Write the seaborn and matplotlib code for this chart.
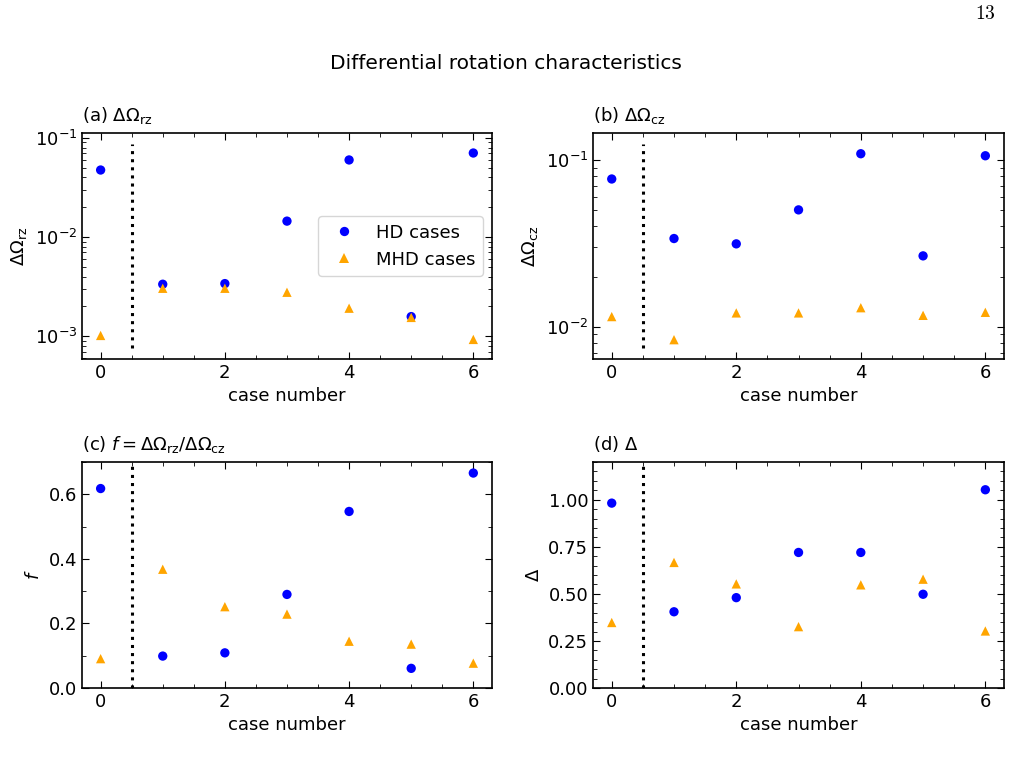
import numpy as np
import pandas as pd
import matplotlib
matplotlib.use("Agg")
import matplotlib.pyplot as plt
import seaborn as sns
from matplotlib.ticker import AutoMinorLocator, LogLocator, NullFormatter, FormatStrFormatter

cases = [0, 1, 2, 3, 4, 5, 6]

# (a) delta Omega_rz
hd_rz = [0.0475, 0.00335, 0.0034, 0.0145, 0.060, 0.00158, 0.0705]
mhd_rz = [0.00102, 0.00305, 0.00305, 0.00278, 0.00192, 0.00155, 0.00093]

# (b) delta Omega_cz
hd_cz = [0.0769, 0.0338, 0.0314, 0.0502, 0.109, 0.0266, 0.106]
mhd_cz = [0.0115, 0.00836, 0.0121, 0.0121, 0.0130, 0.0117, 0.0122]

# (c) f
hd_f = [0.618, 0.099, 0.109, 0.290, 0.547, 0.061, 0.666]
mhd_f = [0.091, 0.368, 0.252, 0.229, 0.145, 0.136, 0.077]

# (d) Delta
hd_d = [0.982, 0.405, 0.480, 0.720, 0.720, 0.498, 1.053]
mhd_d = [0.348, 0.667, 0.553, 0.326, 0.548, 0.578, 0.303]

sns.set_style("ticks")
plt.rcParams.update({
    "font.size": 13,
    "mathtext.fontset": "dejavusans",
    "text.color": "black",
    "axes.labelcolor": "black",
    "axes.edgecolor": "black",
    "xtick.color": "black",
    "ytick.color": "black",
    "xtick.direction": "in",
    "ytick.direction": "in",
    "xtick.top": True,
    "ytick.right": True,
    "xtick.major.size": 5,
    "ytick.major.size": 5,
    "xtick.minor.size": 3,
    "ytick.minor.size": 3,
    "axes.linewidth": 1.2,
    "legend.edgecolor": "0.8",
})
plt.rcParams["font.family"] = ["DejaVu Sans"]

fig = plt.figure(figsize=(10.11, 7.8), dpi=100)

boxes = [
    [0.0811, 0.5397, 0.4055, 0.2897],
    [0.5866, 0.5397, 0.4065, 0.2897],
    [0.0811, 0.1179, 0.4055, 0.2897],
    [0.5866, 0.1179, 0.4065, 0.2897],
]
panels = [
    (hd_rz, mhd_rz, r"(a) $\Delta\Omega_{\rm rz}$", r"$\Delta\Omega_{\rm rz}$", "log", (5.9e-4, 0.112), (0.05, 0.95)),
    (hd_cz, mhd_cz, r"(b) $\Delta\Omega_{\rm cz}$", r"$\Delta\Omega_{\rm cz}$", "log", (0.0064, 0.145), (0.05, 0.95)),
    (hd_f, mhd_f, r"(c) $f = \Delta\Omega_{\rm rz}/\Delta\Omega_{\rm cz}$", r"$f$", "linear", (0, 0.7), (0, 1)),
    (hd_d, mhd_d, r"(d) $\Delta$", r"$\Delta$", "linear", (0, 1.2), (0, 1)),
]

for i, (hd, mhd, title, ylab, scale, ylim, vspan) in enumerate(panels):
    ax = fig.add_axes(boxes[i])
    df = pd.DataFrame({
        "case": cases + cases,
        "value": hd + mhd,
        "kind": ["HD cases"] * len(cases) + ["MHD cases"] * len(cases),
    })
    sns.scatterplot(data=df, x="case", y="value", hue="kind", style="kind",
                    palette={"HD cases": "blue", "MHD cases": "orange"},
                    markers={"HD cases": "o", "MHD cases": "^"},
                    s=45, linewidth=0, ax=ax, legend=(i == 0), zorder=3)
    ax.axvline(0.5, ymin=vspan[0], ymax=vspan[1], color="black", ls=":", lw=2.2)
    ax.set_yscale(scale)
    ax.set_ylim(*ylim)
    ax.set_xlim(-0.3, 6.3)
    ax.set_xticks([0, 2, 4, 6])
    ax.xaxis.set_minor_locator(AutoMinorLocator(4))
    if scale == "log":
        ax.yaxis.set_minor_locator(LogLocator(base=10, subs=np.arange(2, 10)))
        ax.yaxis.set_minor_formatter(NullFormatter())
    else:
        ax.yaxis.set_minor_locator(AutoMinorLocator(2))
    if i == 3:
        ax.set_yticks([0, 0.25, 0.5, 0.75, 1.0])
        ax.yaxis.set_minor_locator(AutoMinorLocator(5))
        ax.yaxis.set_major_formatter(FormatStrFormatter("%.2f"))
    ax.tick_params(which="both", direction="in", top=True, right=True, labelsize=13)
    ax.set_xlabel("case number", fontsize=13)
    ax.set_ylabel(ylab, fontsize=13)
    ax.set_title(title, loc="left", fontsize=13, pad=9)
    if i == 0:
        ax.legend(title=None, loc="center right", fontsize=13, frameon=True)

fig.text(0.5, 0.919, "Differential rotation characteristics", ha="center", va="center", fontsize=14.5)
fig.text(0.975, 0.983, r"$\mathrm{13}$", ha="center", va="center", fontsize=14, math_fontfamily="cm")

fig.savefig("out.png", dpi=100)
